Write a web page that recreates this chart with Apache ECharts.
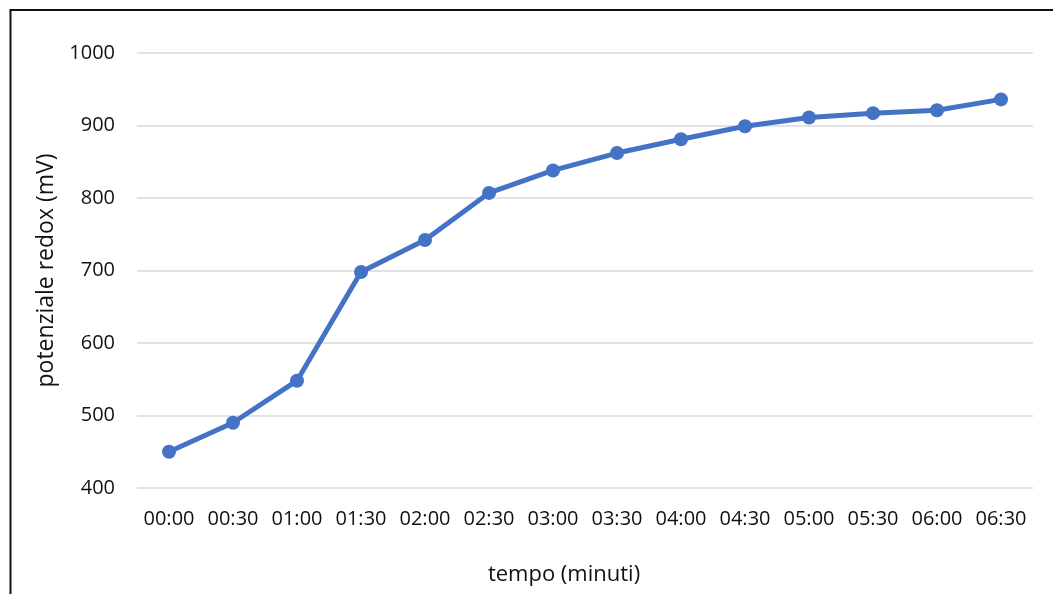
<!DOCTYPE html>
<html>
<head>
<meta charset="utf-8">
<script src="https://cdn.jsdelivr.net/npm/echarts@6/dist/echarts.min.js"></script>
<style>html,body{margin:0;padding:0;background:#fff;}#c{width:1053px;height:594px;}</style>
</head>
<body>
<div id="c"></div>
<script>
const categories = ['00:00','00:30','01:00','01:30','02:00','02:30','03:00','03:30','04:00','04:30','05:00','05:30','06:00','06:30'];
const redox = [450, 490, 548, 698, 742, 807, 838, 862, 881, 899, 911, 917, 921, 936];
const yTicks = [400, 500, 600, 700, 800, 900, 1000];

const chart = echarts.init(document.getElementById('c'), null, {renderer: 'canvas'});
const font = '"Open Sans", "Noto Sans", sans-serif';
chart.setOption({
  animation: false,
  backgroundColor: '#fff',
  grid: {left: 137, right: 20, top: 53, bottom: 106},
  xAxis: {
    type: 'category',
    data: categories,
    boundaryGap: true,
    name: 'tempo (minuti)',
    nameLocation: 'middle',
    nameGap: 76,
    nameTextStyle: {color: '#111', fontSize: 22, fontFamily: font, padding: [0, 42, 0, 0]},
    axisLine: {show: false},
    axisTick: {show: false},
    axisLabel: {color: '#111', fontSize: 20, fontFamily: font, margin: 21, interval: 0}
  },
  yAxis: {
    type: 'value',
    min: yTicks[0],
    max: yTicks[yTicks.length - 1],
    interval: 100,
    name: 'potenziale redox (mV)',
    nameLocation: 'middle',
    nameGap: 75,
    nameTextStyle: {color: '#111', fontSize: 23, fontFamily: font},
    axisLine: {show: false},
    axisTick: {show: false},
    axisLabel: {color: '#111', fontSize: 20, fontFamily: font, margin: 22, formatter: v => String(v)},
    splitLine: {lineStyle: {color: '#d9d9d9', width: 1.5}}
  },
  series: [{
    type: 'line',
    data: redox,
    symbol: 'circle',
    symbolSize: 14,
    lineStyle: {color: '#4472C4', width: 5},
    itemStyle: {color: '#4472C4'}
  }],
  graphic: [{
    type: 'polyline',
    shape: {points: [[10.5, 594], [10.5, 10], [1053, 10]]},
    style: {stroke: '#111', lineWidth: 2, fill: null}
  }]
});
</script>
</body>
</html>
